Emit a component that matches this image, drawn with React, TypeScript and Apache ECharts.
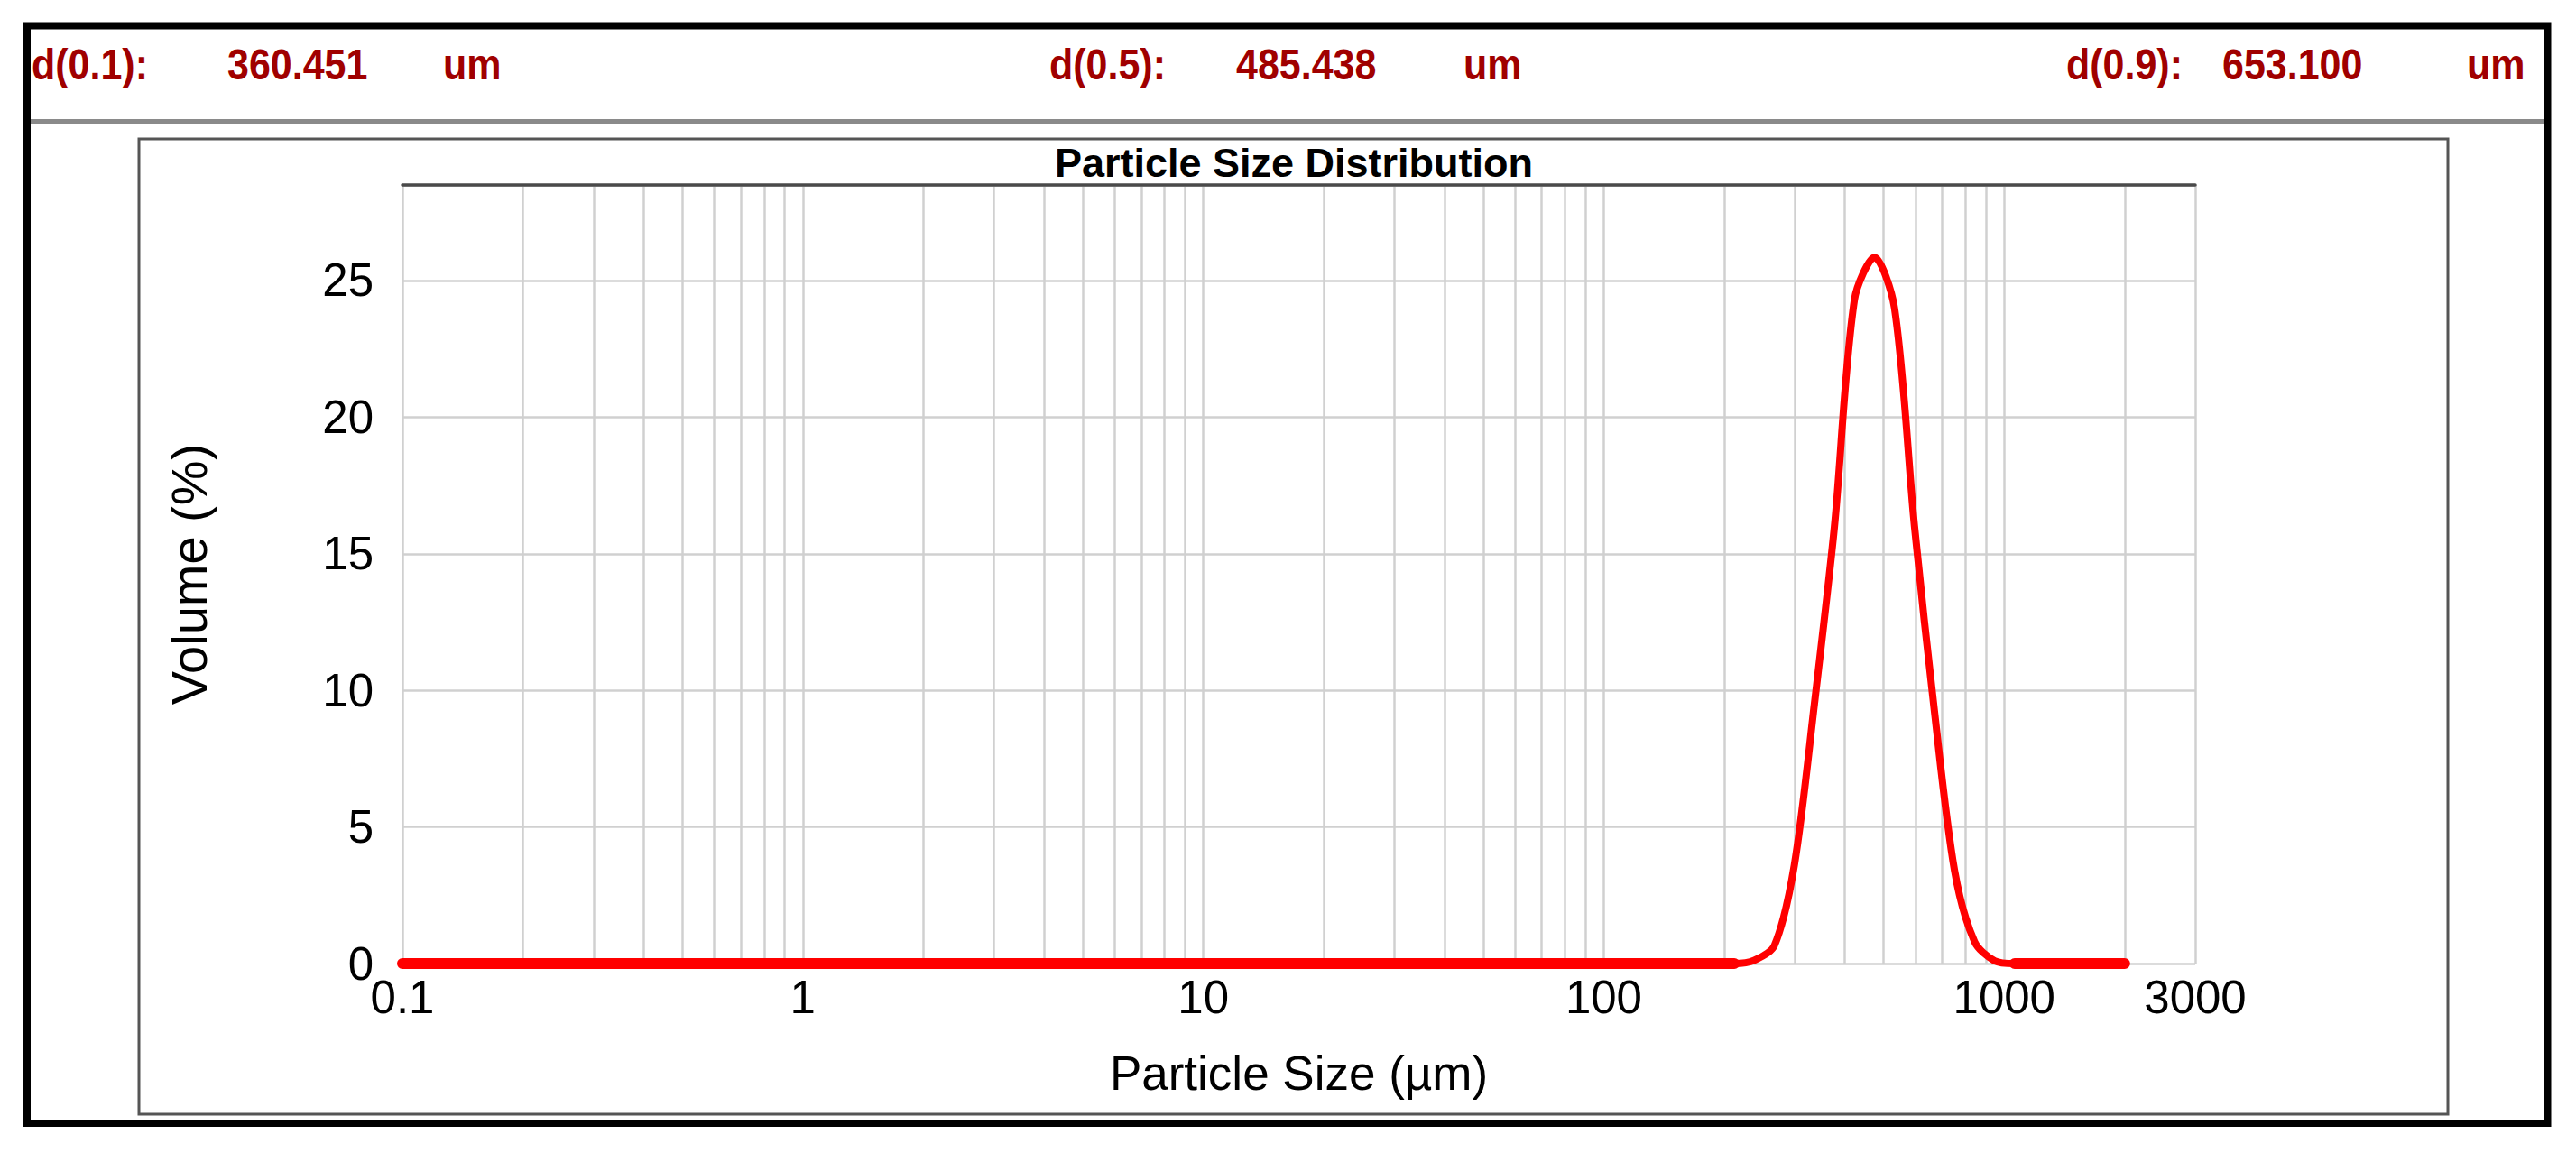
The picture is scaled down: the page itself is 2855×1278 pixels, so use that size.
import React, { useEffect, useRef } from "react";
import * as echarts from "echarts";

// Particle size (µm, class centres) and volume (%)
const sizeUm = [0.1, 211.9, 237.7, 266.7, 299.2, 335.8, 376.8, 422.7, 474.3, 532.2, 597.1, 670.0, 751.7, 843.4, 946.3, 1061.8, 2000];
const volumePct = [0, 0, 0.12, 0.65, 3.6, 9.5, 16.0, 24.3, 25.85, 24.0, 16.0, 9.2, 3.4, 0.8, 0.1, 0, 0];

// Axis ticks
const xLabelValues = [0.1, 1, 10, 100, 1000, 3000];
const xGridValues = [
  0.1, 0.2, 0.3, 0.4, 0.5, 0.6, 0.7, 0.8, 0.9,
  1, 2, 3, 4, 5, 6, 7, 8, 9,
  10, 20, 30, 40, 50, 60, 70, 80, 90,
  100, 200, 300, 400, 500, 600, 700, 800, 900,
  1000, 2000, 3000,
];
const xMin = 0.1;
const xMax = 3000;
const yMin = 0;
const yMax = 28.5;
const yStep = 5;

// Header statistics
const statLabels = ["d(0.1):", "d(0.5):", "d(0.9):"];
const statValues = ["360.451", "485.438", "653.100"];
const statUnits = ["um", "um", "um"];

const chartTitle = "Particle Size Distribution";
const xName = "Particle Size (µm)";
const yName = "Volume (%)";

const FONT = '"Liberation Sans", Arial, sans-serif';

export default function App() {
  const ref = useRef<HTMLDivElement>(null);

  useEffect(() => {
    if (!ref.current) return;
    const chart = echarts.init(ref.current, null, { renderer: "svg" });

    const mainData = sizeUm.map((s, i) => [s, volumePct[i]]);
    const zeroRunData = sizeUm.map((s, i) => [s, volumePct[i] === 0 ? 0 : null]);

    // header layout (positions only)
    const labelX = [35, 1163, 2290];
    const valueX = [252, 1370, 2463];
    const unitX = [491, 1622, 2734];
    const headerTexts: any[] = [];
    statLabels.forEach((lab, i) => {
      [
        [labelX[i], lab],
        [valueX[i], statValues[i]],
        [unitX[i], statUnits[i]],
      ].forEach(([x, t]) => {
        headerTexts.push({
          type: "text",
          x: x as number,
          y: 72,
          scaleY: 1.1,
          style: {
            text: t as string,
            fontSize: 43,
            fontWeight: "bold",
            fontFamily: FONT,
            fill: "#a00000",
            align: "left",
            verticalAlign: "middle",
          },
        });
      });
    });

    const gridLine = { color: "#d0d0d0", width: 2.5 };

    chart.setOption({
      animation: false,
      backgroundColor: "#ffffff",
      grid: { left: 446, top: 205, right: 422, bottom: 210, containLabel: false },
      xAxis: [
        {
          type: "log",
          logBase: 10,
          min: xMin,
          max: xMax,
          position: "bottom",
          axisLine: { show: false },
          axisTick: { show: false, customValues: xGridValues },
          splitLine: { show: true, lineStyle: gridLine },
          axisLabel: {
            customValues: xLabelValues,
            fontSize: 51,
            fontFamily: FONT,
            color: "#000",
            margin: 12,
            formatter: (v: number) => String(Number(v.toPrecision(6))),
          },
          name: xName,
          nameLocation: "middle",
          nameGap: 95,
          nameTextStyle: { fontSize: 53, fontFamily: FONT, color: "#000" },
        },
        {
          type: "log",
          logBase: 10,
          min: xMin,
          max: xMax,
          position: "top",
          axisLine: { show: true, lineStyle: { color: "#4a4a4a", width: 3.5 } },
          axisTick: { show: false },
          axisLabel: { show: false },
          splitLine: { show: false },
        },
      ],
      yAxis: {
        type: "value",
        min: yMin,
        max: yMax,
        interval: yStep,
        axisLine: { show: false },
        axisTick: { show: false },
        splitLine: { show: true, lineStyle: gridLine },
        axisLabel: {
          fontSize: 51,
          fontFamily: FONT,
          color: "#000",
          margin: 32,
          showMaxLabel: false,
        },
        name: yName,
        nameLocation: "middle",
        nameGap: 209,
        nameTextStyle: { fontSize: 56, fontFamily: FONT, color: "#000" },
      },
      series: [
        {
          type: "line",
          data: mainData,
          showSymbol: false,
          symbol: "none",
          smooth: 0.3,
          clip: true,
          z: 3,
          lineStyle: { color: "#ff0000", width: 8, cap: "round", join: "round" },
        },
        {
          type: "line",
          data: zeroRunData,
          showSymbol: false,
          symbol: "none",
          connectNulls: false,
          clip: true,
          z: 4,
          lineStyle: { color: "#ff0000", width: 12, cap: "round" },
        },
      ],
      graphic: [
        {
          type: "rect",
          shape: { x: 30, y: 28.5, width: 2793.5, height: 1216.5 },
          style: { fill: "none", stroke: "#000", lineWidth: 8 },
          z: 100,
        },
        {
          type: "line",
          shape: { x1: 34, y1: 134.5, x2: 2819, y2: 134.5 },
          style: { stroke: "#8a8a8a", lineWidth: 5 },
        },
        {
          type: "rect",
          shape: { x: 154, y: 154, width: 2559, height: 1081 },
          style: { fill: "none", stroke: "#555", lineWidth: 3 },
        },
        {
          type: "text",
          x: 1434,
          y: 180,
          style: {
            text: chartTitle,
            fontSize: 45,
            fontWeight: "bold",
            fontFamily: FONT,
            fill: "#000",
            align: "center",
            verticalAlign: "middle",
          },
        },
        ...headerTexts,
      ],
    });

    return () => chart.dispose();
  }, []);

  return (
    <div
      ref={ref}
      style={{ position: "absolute", left: 0, top: 0, width: 2855, height: 1278, background: "#fff" }}
    />
  );
}
